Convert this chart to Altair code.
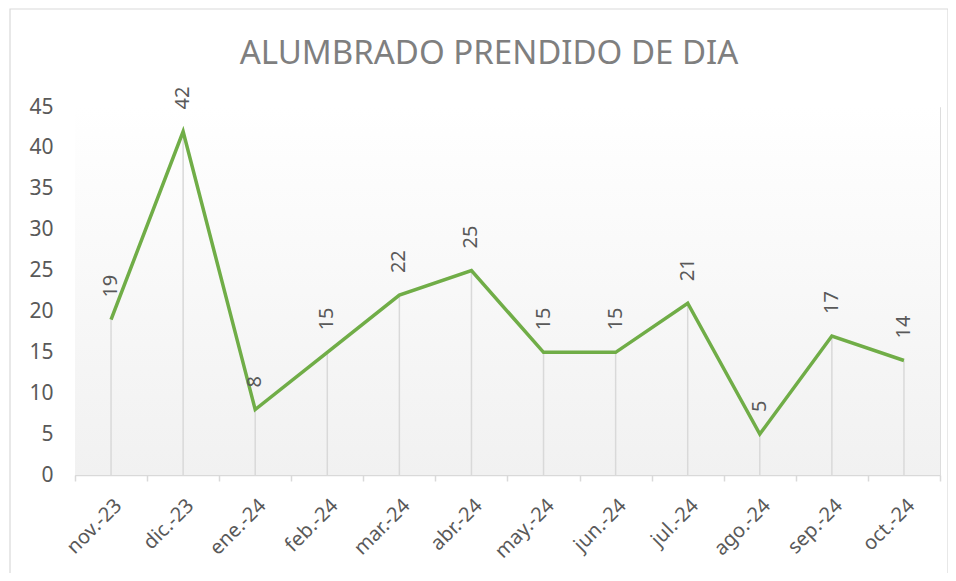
import altair as alt
import pandas as pd

months = ["nov.-23", "dic.-23", "ene.-24", "feb.-24", "mar.-24", "abr.-24",
          "may.-24", "jun.-24", "jul.-24", "ago.-24", "sep.-24", "oct.-24"]
values = [19, 42, 8, 15, 22, 25, 15, 15, 21, 5, 17, 14]
y_ticks = [0, 5, 10, 15, 20, 25, 30, 35, 40, 45]
title_text = "ALUMBRADO PRENDIDO DE DIA"

df = pd.DataFrame({"mes": months, "valor": values})
one = pd.DataFrame({"k": [0]})

W, H = 865, 368
FONT = "Noto Sans"
TXT = "#595959"
GRID = "#d9d9d9"

x_enc = alt.X("mes:N", sort=months, title=None,
              scale=alt.Scale(paddingInner=0, paddingOuter=0),
              axis=alt.Axis(labelAngle=-45, labelFontSize=20, labelColor=TXT,
                            labelFont=FONT, labelPadding=14, domainColor=GRID,
                            domainWidth=1.5, tickColor=GRID, tickWidth=1.5,
                            tickSize=6, tickBand="extent"))
y_enc = alt.Y("valor:Q", title=None,
              scale=alt.Scale(domain=[0, 45], nice=False),
              axis=alt.Axis(values=y_ticks, grid=False, domain=False, ticks=False,
                            labelFontSize=21, labelColor=TXT, labelFont=FONT,
                            labelPadding=22))

border = alt.Chart(one).mark_rect(fill=None, stroke=GRID, strokeWidth=1.2, clip=False).encode(
    x=alt.value(-65), x2=alt.value(873), y=alt.value(-98), y2=alt.value(470))

title = alt.Chart(one).mark_text(text=title_text, fontSize=33, font=FONT,
                                 color="#7f7f7f", align="center",
                                 baseline="alphabetic").encode(
    x=alt.value(414), y=alt.value(-43))

bg = alt.Chart(one).mark_rect(
    fill=alt.Gradient(gradient="linear",
                      stops=[alt.GradientStop(color="#ffffff", offset=0),
                             alt.GradientStop(color="#f1f1f1", offset=1)],
                      x1=0, x2=0, y1=0, y2=1)
).encode(x=alt.value(0), x2=alt.value(W), y=alt.value(0), y2=alt.value(H))

base = alt.Chart(df).encode(x=x_enc)

drops = base.mark_rule(color=GRID, strokeWidth=1.5).encode(
    y=y_enc, y2=alt.datum(0))

line = base.mark_line(color="#70ad47", strokeWidth=3.5).encode(y=y_enc)

labels = base.mark_text(angle=270, align="left", baseline="middle", dx=22,
                        fontSize=20, font=FONT, color=TXT).encode(
    y=y_enc, text="valor:Q")

chart = alt.layer(border, title, bg, drops, line, labels).properties(
    width=W, height=H,
    autosize=alt.AutoSizeParams(type="none"),
    padding={"left": 67, "top": 99, "right": 8, "bottom": 98},
).configure_view(stroke=None).configure(background="white")

chart.save("out.html", embed_options={"renderer": "svg", "actions": False})
